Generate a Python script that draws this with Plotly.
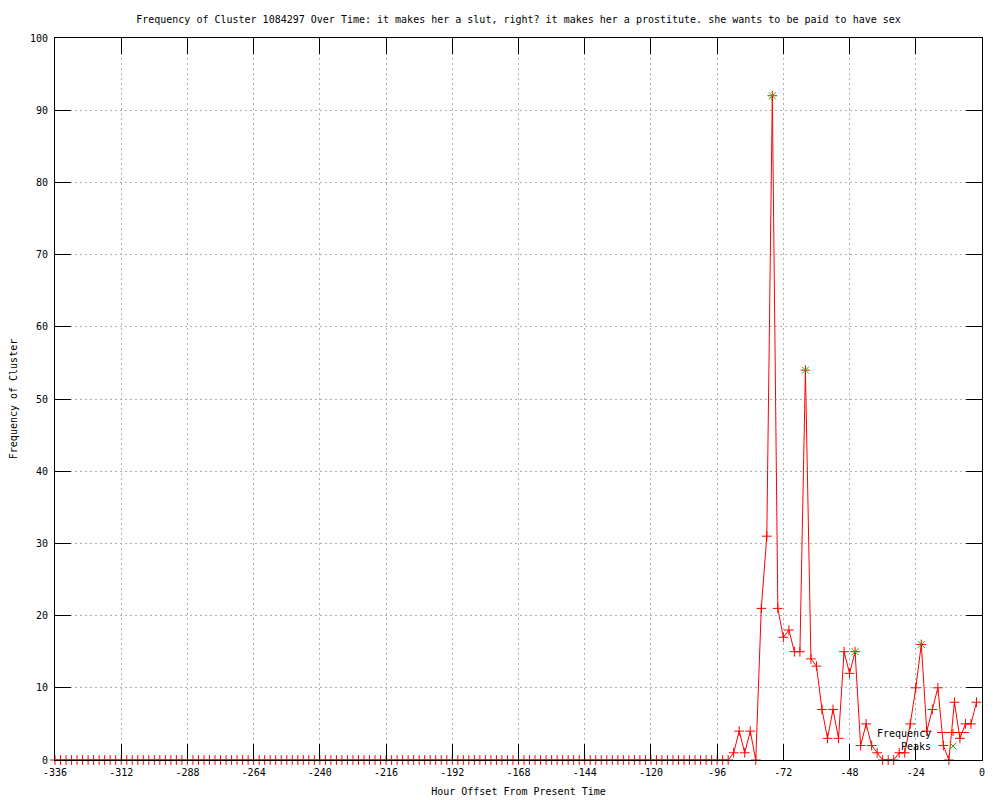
import plotly.graph_objects as go

# ---- data ----
hours = list(range(-336, 0, 2))  # one sample every 2 hours, -336 .. -2

frequency = [
    # -336 .. -242
    0, 0, 0, 0, 0, 0, 0, 0, 0, 0, 0, 0, 0, 0, 0, 0, 0, 0, 0, 0, 0, 0, 0, 0, 0, 0, 0, 0, 0, 0, 0, 0, 0, 0, 0, 0, 0, 0, 0, 0, 0, 0, 0, 0, 0, 0, 0, 0,
    # -240 .. -146
    0, 0, 0, 0, 0, 0, 0, 0, 0, 0, 0, 0, 0, 0, 0, 0, 0, 0, 0, 0, 0, 0, 0, 0, 0, 0, 0, 0, 0, 0, 0, 0, 0, 0, 0, 0, 0, 0, 0, 0, 0, 0, 0, 0, 0, 0, 0, 0,
    # -144 .. -92
    0, 0, 0, 0, 0, 0, 0, 0, 0, 0, 0, 0, 0, 0, 0, 0, 0, 0, 0, 0, 0, 0, 0, 0, 0, 0, 0,
    # -90 .. -2
    1, 4, 1, 4, 0, 21, 31, 92, 21, 17, 18, 15, 15, 54, 14, 13, 7, 3, 7, 3,
    15, 12, 15, 2, 5, 2, 1, 0, 0, 0, 1, 1, 5, 10, 16, 4, 7, 10, 2, 0,
    8, 3, 5, 5, 8,
]

peak_hours = [-76, -64, -46, -22]
peak_values = [92, 54, 15, 16]

x_ticks = [-336, -312, -288, -264, -240, -216, -192, -168, -144, -120, -96, -72, -48, -24, 0]
y_ticks = [0, 10, 20, 30, 40, 50, 60, 70, 80, 90, 100]

title_text = ("Frequency of Cluster 1084297 Over Time: it makes her a slut, right? "
              "it makes her a prostitute. she wants to be paid to have sex")

RED = "#ff0000"
GREEN = "#00c000"
FONT = "DejaVu Sans Mono"

# the page body adds an 8px offset; margins are set so the plot area lands at
# page x 55..982, y 38..760 like the reference
OFF = 8

fig = go.Figure()
fig.add_trace(go.Scatter(
    x=hours, y=frequency, mode="lines+markers", name="Frequency",
    line=dict(color=RED, width=1),
    marker=dict(symbol="cross-thin", size=7, line=dict(color=RED, width=1)),
    showlegend=False, cliponaxis=False,
))
fig.add_trace(go.Scatter(
    x=peak_hours, y=peak_values, mode="markers", name="Peaks",
    marker=dict(symbol="x-thin", size=7, line=dict(color=GREEN, width=1)),
    showlegend=False,
))

axis_common = dict(
    showline=True, linecolor="black", linewidth=1, mirror="ticks",
    ticks="inside", ticklen=16, tickwidth=1, tickcolor="black",
    showgrid=True, gridcolor="#b0b0b0", gridwidth=1, griddash="2px,3px",
    zeroline=False, tickfont=dict(family=FONT, size=10, color="black"),
    automargin=False,
)

fig.update_xaxes(
    range=[-336, 0], tickvals=x_ticks, ticktext=[str(v) for v in x_ticks],
    title=dict(text="Hour Offset From Present Time", font=dict(family=FONT, size=10, color="black"), standoff=10),
    ticklabelstandoff=3,
    **axis_common,
)
fig.update_yaxes(
    range=[0, 100], tickvals=y_ticks,
    title=dict(text="Frequency of Cluster", font=dict(family=FONT, size=10, color="black"), standoff=14),
    ticklabelstandoff=4,
    **axis_common,
)

# ---- key (gnuplot style: text on the left, sample on the right) ----
pw, ph = 927.0, 722.0
def px_x(p):
    return (p - 55) / pw
def px_y(p):
    return (760 - p) / ph

fig.add_annotation(x=px_x(933), y=px_y(733), xref="paper", yref="paper",
                   text="Frequency", showarrow=False, xanchor="right", yanchor="middle",
                   font=dict(family=FONT, size=10, color="black"))
fig.add_annotation(x=px_x(933), y=px_y(746), xref="paper", yref="paper",
                   text="Peaks", showarrow=False, xanchor="right", yanchor="middle",
                   font=dict(family=FONT, size=10, color="black"))
shapes = [
    dict(type="line", xref="paper", yref="paper", x0=px_x(937), x1=px_x(969),
         y0=px_y(732.5), y1=px_y(732.5), line=dict(color=RED, width=1)),
    dict(type="line", xref="paper", yref="paper", xsizemode="pixel", ysizemode="pixel",
         xanchor=px_x(953), yanchor=px_y(732.5), x0=0, x1=0, y0=-3.5, y1=3.5,
         line=dict(color=RED, width=1)),
    dict(type="line", xref="paper", yref="paper", xsizemode="pixel", ysizemode="pixel",
         xanchor=px_x(953), yanchor=px_y(746), x0=-3.5, x1=3.5, y0=-3.5, y1=3.5,
         line=dict(color=GREEN, width=1)),
    dict(type="line", xref="paper", yref="paper", xsizemode="pixel", ysizemode="pixel",
         xanchor=px_x(953), yanchor=px_y(746), x0=-3.5, x1=3.5, y0=3.5, y1=-3.5,
         line=dict(color=GREEN, width=1)),
]
fig.update_layout(shapes=shapes)

fig.update_layout(
    width=1000, height=800,
    margin=dict(l=55 - OFF, r=18 + OFF, t=38 - OFF, b=40 + OFF, autoexpand=False),
    paper_bgcolor="white", plot_bgcolor="white",
    title=dict(text=title_text, xref="container", yref="container",
               x=(518.5 - OFF) / 1000, xanchor="center",
               y=1 - (19 - OFF) / 800, yanchor="middle",
               font=dict(family=FONT, size=10, color="black"), automargin=False),
    showlegend=False,
)

fig.write_html("out.html")
